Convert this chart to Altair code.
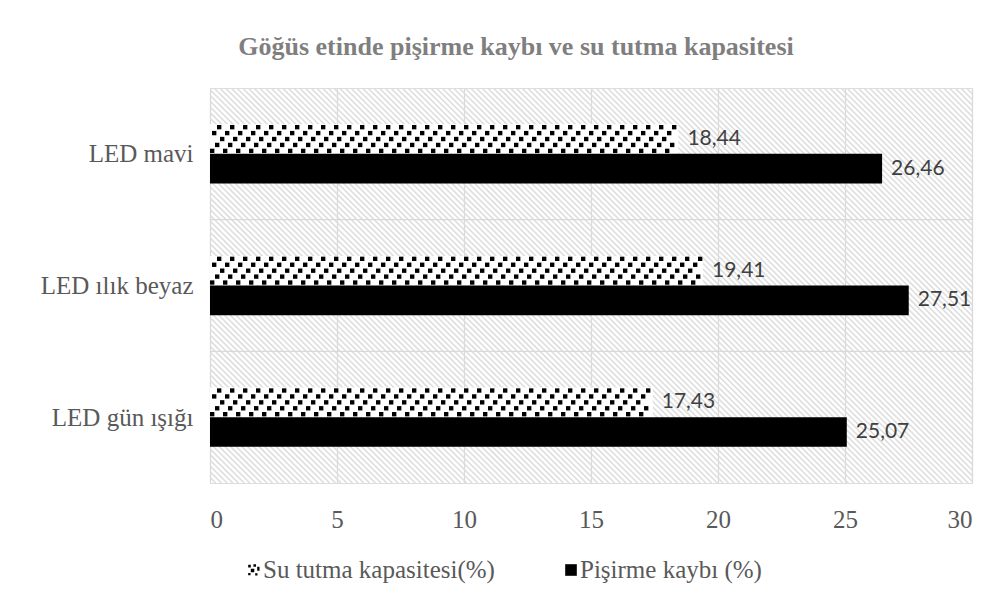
import altair as alt
import pandas as pd

# ---- data ----
categories = ["LED mavi", "LED ılık beyaz", "LED gün ışığı"]
su_tutma = [18.44, 19.41, 17.43]
pisirme = [26.46, 27.51, 25.07]
series_names = ["Su tutma kapasitesi(%)", "Pişirme kaybı (%)"]
x_ticks = [0, 5, 10, 15, 20, 25, 30]
title_text = "Göğüs etinde pişirme kaybı ve su tutma kapasitesi"

# ---- layout / style ----
W, H = 762, 395
XMAX = 30
n = len(categories)
px_x = W / XMAX
px_y = H / n
BAR = 0.225  # bar thickness in y units
GRID = "#d9d9d9"
TXT = "#595959"
SERIF = "Liberation Serif"
FS = 25

centers = [n - 1 - i + 0.5 for i in range(n)]

rows = []
for cat, c, s, p in zip(categories, centers, su_tutma, pisirme):
    rows.append(dict(cat=cat, series=series_names[0], value=s, x0=0.0,
                     y0=c, y1=c + BAR, ymid=c + BAR / 2))
    rows.append(dict(cat=cat, series=series_names[1], value=p, x0=0.0,
                     y0=c - BAR, y1=c, ymid=c - BAR / 2))
bars = pd.DataFrame(rows)

# confetti-like pattern squares inside the "Su tutma" bars
NR = 5
row_h = BAR / NR
PER = 13
DXP = PER / px_x
half = 2.2 / px_x
sq = []
for c, s in zip(centers, su_tutma):
    for r in range(NR):
        x = ((r * 5) % PER) / px_x + half
        while x + half <= s:
            sq.append(dict(x=x, y=c + (r + 0.5) * row_h))
            x += DXP
squares = pd.DataFrame(sq)

label_expr = " : ".join(
    f"datum.value == {c} ? '{cat}'" for c, cat in zip(centers, categories)
) + " : ''"

xscale = alt.Scale(domain=[0, XMAX], nice=False, zero=False)
yscale = alt.Scale(domain=[0, n], nice=False, zero=False)
xaxis = alt.Axis(values=x_ticks, grid=True, gridColor=GRID, gridWidth=1.3,
                 ticks=False, domain=False, labelFont=SERIF, labelFontSize=FS,
                 labelColor=TXT, labelPadding=24, title=None)
yaxis = alt.Axis(values=centers, labelExpr=label_expr, grid=False, ticks=False,
                 domain=False, labelFont=SERIF, labelFontSize=FS, labelColor=TXT,
                 labelPadding=17, title=None, labelLimit=400)


def X(f):
    return alt.X(f, type="quantitative", scale=xscale, axis=xaxis)


def Y(f):
    return alt.Y(f, type="quantitative", scale=yscale, axis=yaxis)


# diagonal hatch of the plot background
span = H / px_x
step = 5.7 / px_x
nlines = int((XMAX + span) / step) + 2
hatch = alt.Chart(alt.sequence(0, nlines, as_="i")).transform_calculate(
    xt=f"datum.i*{step} - {span}", xb=f"datum.i*{step}", yt=f"{n}", yb="0"
).mark_rule(clip=True, color="#dedede", strokeWidth=1.6).encode(
    x=X("xt:Q"), x2="xb:Q", y=Y("yt:Q"), y2="yb:Q"
)

hgrid = alt.Chart(pd.DataFrame({"b": list(range(1, n))})).mark_rule(
    color=GRID, strokeWidth=1.3
).encode(y=Y("b:Q"))

rects = alt.Chart(bars).mark_rect().encode(
    x=X("x0:Q"), x2="value:Q", y=Y("y0:Q"), y2="y1:Q",
    color=alt.Color("series:N", scale=alt.Scale(domain=series_names,
                                                range=["white", "black"]),
                    legend=None),
)

dots = alt.Chart(squares).mark_square(size=19, color="black", opacity=1,
                                      filled=True, strokeWidth=0).encode(
    x=X("x:Q"), y=Y("y:Q")
)

labels = alt.Chart(bars).transform_calculate(
    lab="replace(format(datum.value, '.2f'), '.', ',')"
).mark_text(align="left", baseline="middle", dx=9, font="Lato", fontSize=21,
            color="#404040").encode(
    x=X("value:Q"), y=Y("ymid:Q"), text="lab:N"
)

# ---- legend below the plot (pixel layout relative to the plot origin) ----
confetti = ("M-1,-0.9h0.45v0.45h-0.45z M-0.1,-1h0.45v0.45h-0.45z "
            "M-0.55,-0.2h0.6v0.6h-0.6z M0.55,-0.55h0.4v0.7h-0.4z "
            "M-1,0.5h0.4v0.4h-0.4z M0.2,0.55h0.4v0.4h-0.4z")
LEG_Y = H + 87
LEG_SYM_X = [44, 361]
LEG_TXT_GAP = 9

leg_layers = []
for name, sx, shp in zip(series_names, LEG_SYM_X, [confetti, "square"]):
    d = pd.DataFrame({"t": [name]})
    leg_layers.append(
        alt.Chart(d).mark_point(shape=shp, filled=True, color="black", opacity=1,
                                size=135, strokeWidth=0).encode(
            x=alt.value(sx), y=alt.value(LEG_Y))
    )
    leg_layers.append(
        alt.Chart(d).mark_text(align="left", baseline="middle", font=SERIF,
                               fontSize=FS, color=TXT).encode(
            x=alt.value(sx + LEG_TXT_GAP), y=alt.value(LEG_Y), text="t:N")
    )

chart = alt.layer(hatch, hgrid, rects, dots, labels, *leg_layers).properties(
    width=W, height=H,
    title=alt.TitleParams(title_text, font=SERIF, fontSize=26, fontWeight="bold",
                          color="#7f7f7f", anchor="middle", dx=-75, offset=28),
    autosize=alt.AutoSizeParams(type="none"),
    padding={"left": 202, "top": 80, "right": 18, "bottom": 115},
).configure_view(stroke=GRID, strokeWidth=1.3).configure(background="white")

chart.save("out.html", embed_options={"renderer": "svg", "actions": False})
